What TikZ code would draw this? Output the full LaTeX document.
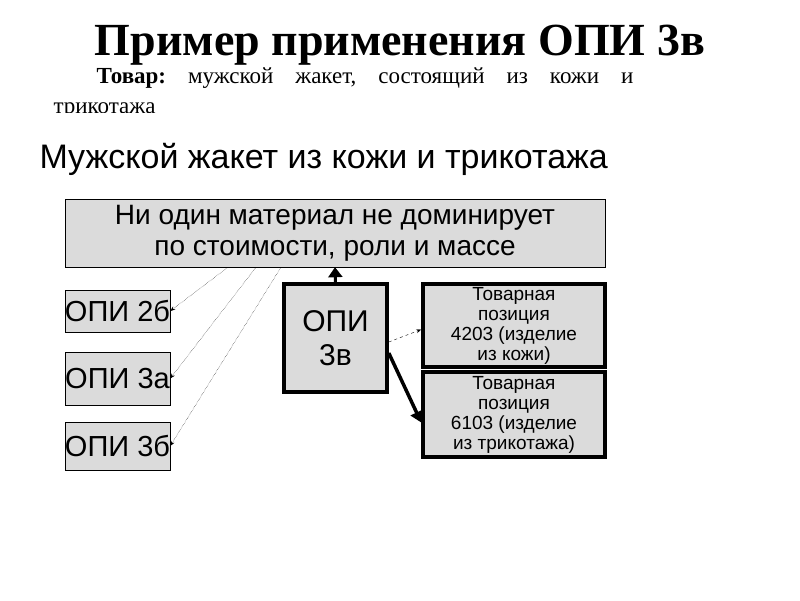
\documentclass[tikz,border=0pt]{standalone}
\usepackage{fontspec}
\setmainfont{Liberation Sans}
\newfontfamily\serifrm{Liberation Serif}
\usetikzlibrary{arrows.meta}
\tikzset{
  grey box/.style={draw=black, fill=gray!28, inner sep=0pt, align=center},
  thick box/.style={grey box, line width=3.5pt},
  dot arrow/.style={densely dotted, -{Stealth[length=5pt]}},
}
\begin{document}
\begin{tikzpicture}[x=1pt,y=-1pt]
\useasboundingbox (0,0) rectangle (800,600);
% titles
\node (title) at (400,45) {\serifrm\bfseries\fontsize{46}{48}\selectfont Пример применения ОПИ 3в};
\node[anchor=west] (goods) at (93,78) {\serifrm\fontsize{23}{25}\selectfont\textbf{Товар:}\hspace{22pt}мужской\hspace{22pt}жакет,\hspace{22pt}состоящий\hspace{22pt}из\hspace{22pt}кожи\hspace{22pt}и};
\begin{scope}
\clip (0,90) rectangle (800,112);
\node[anchor=west] (goods2) at (50,111) {\serifrm\fontsize{23}{25}\selectfont трикотажа};
\end{scope}
\node[anchor=west] (head) at (36,159) {\fontsize{34}{36}\selectfont Мужской жакет из кожи и трикотажа};
% boxes
\node[grey box, minimum width=540pt, minimum height=68pt, font=\fontsize{28}{31}\selectfont] (none) at (335,233)
  {Ни один материал не доминирует\\ по стоимости, роли и массе};
\node[grey box, minimum width=105pt, minimum height=42pt, font=\fontsize{29}{31}\selectfont] (o2b) at (117.5,311) {ОПИ 2б};
\node[grey box, minimum width=105pt, minimum height=53pt, font=\fontsize{29}{31}\selectfont] (o3a) at (117.5,378.5) {ОПИ 3а};
\node[grey box, minimum width=105pt, minimum height=48pt, font=\fontsize{29}{31}\selectfont] (o3b) at (117.5,446) {ОПИ 3б};
\node[thick box, minimum width=103pt, minimum height=108pt, font=\fontsize{30}{34}\selectfont] (o3v) at (335.5,338) {ОПИ\\ 3в};
\node[thick box, minimum width=182pt, minimum height=83pt, font=\fontsize{19}{20}\selectfont] (p4203) at (514,325.5)
  {Товарная\\ позиция\\ 4203 (изделие\\ из кожи)};
\node[thick box, minimum width=182pt, minimum height=85pt, font=\fontsize{19}{20}\selectfont] (p6103) at (514,414.5)
  {Товарная\\ позиция\\ 6103 (изделие\\ из трикотажа)};
% connectors
\draw[dot arrow] ([xshift=-107pt]none.south) -- (o2b.east);
\draw[dot arrow] ([xshift=-79pt]none.south) -- (o3a.east);
\draw[dot arrow] ([xshift=-54pt]none.south) -- (o3b.east);
\draw[line width=3pt, -{Triangle[length=10pt,width=14pt]}] (o3v.north) -- (none.south);
\draw[dashed, -{Stealth[length=5pt]}] ([yshift=-4pt]o3v.east) -- ([yshift=-4pt]p4203.west);
\draw[line width=3.5pt, -{Triangle[length=11pt,width=13pt]}] ([yshift=-15pt]o3v.east) -- ([yshift=-8pt]p6103.west);
\end{tikzpicture}
\end{document}
